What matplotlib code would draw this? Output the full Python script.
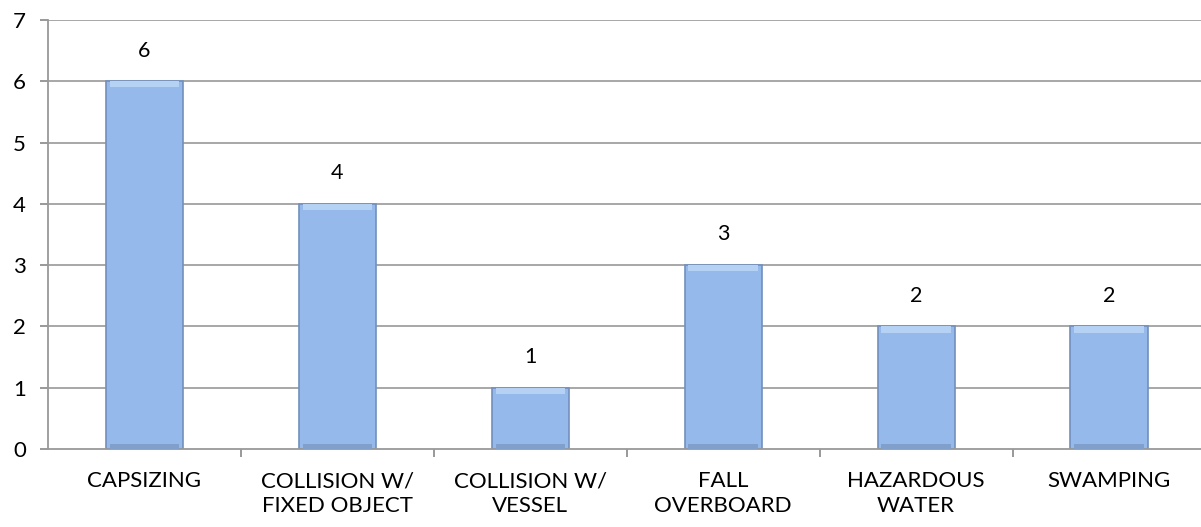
import matplotlib.pyplot as plt
import numpy as np

categories = ["CAPSIZING", "COLLISION W/\nFIXED OBJECT", "COLLISION W/\nVESSEL",
              "FALL\nOVERBOARD", "HAZARDOUS\nWATER", "SWAMPING"]
counts = [6, 4, 1, 3, 2, 2]
y_ticks = [0, 1, 2, 3, 4, 5, 6, 7]

plt.rcParams['font.family'] = ['Lato', 'DejaVu Sans']

fig = plt.figure(figsize=(12.01, 5.27), dpi=100)
ax = fig.add_axes([48 / 1201, 78 / 527, 1 - 48 / 1201, 429 / 527])

x = np.arange(len(categories))
bar_w = 0.4

# grid
for t in y_ticks[1:]:
    ax.axhline(t, color='#a0a0a0', linewidth=1.3, zorder=0)

# bars with a bevel look
ax.bar(x, counts, width=bar_w, color='#94b9ea', edgecolor='#7290bd',
       linewidth=1.2, zorder=2)
for xi, v in zip(x, counts):
    ax.bar(xi, 0.1, bottom=v - 0.1, width=bar_w * 0.9, color='#b5d2f5',
           linewidth=0, zorder=3)
    ax.bar(xi, 0.08, bottom=0, width=bar_w * 0.9, color='#809fcb',
           linewidth=0, zorder=3)
    ax.text(xi, v + 0.5, str(v), ha='center', va='center', fontsize=15.5,
            color='#000000')

ax.set_ylim(0, 7)
ax.set_xlim(-0.5, 5.5 - 4.5 / 193)
ax.set_yticks(y_ticks)
ax.set_xticks(x)
ax.set_xticklabels(categories, fontsize=16, linespacing=1.3)
ax.set_xticks(np.arange(0.5, 5.5, 1.0), minor=True)
ax.tick_params(axis='x', which='major', length=0, pad=16)
ax.tick_params(axis='x', which='minor', length=6, color='#888888', width=1.2)
ax.tick_params(axis='y', length=6, color='#888888', width=1.2, labelsize=16, pad=10)

for s in ['top', 'right']:
    ax.spines[s].set_visible(False)
for s in ['left', 'bottom']:
    ax.spines[s].set_color('#999999')
    ax.spines[s].set_linewidth(1.3)

plt.savefig('out.png', dpi=100)
